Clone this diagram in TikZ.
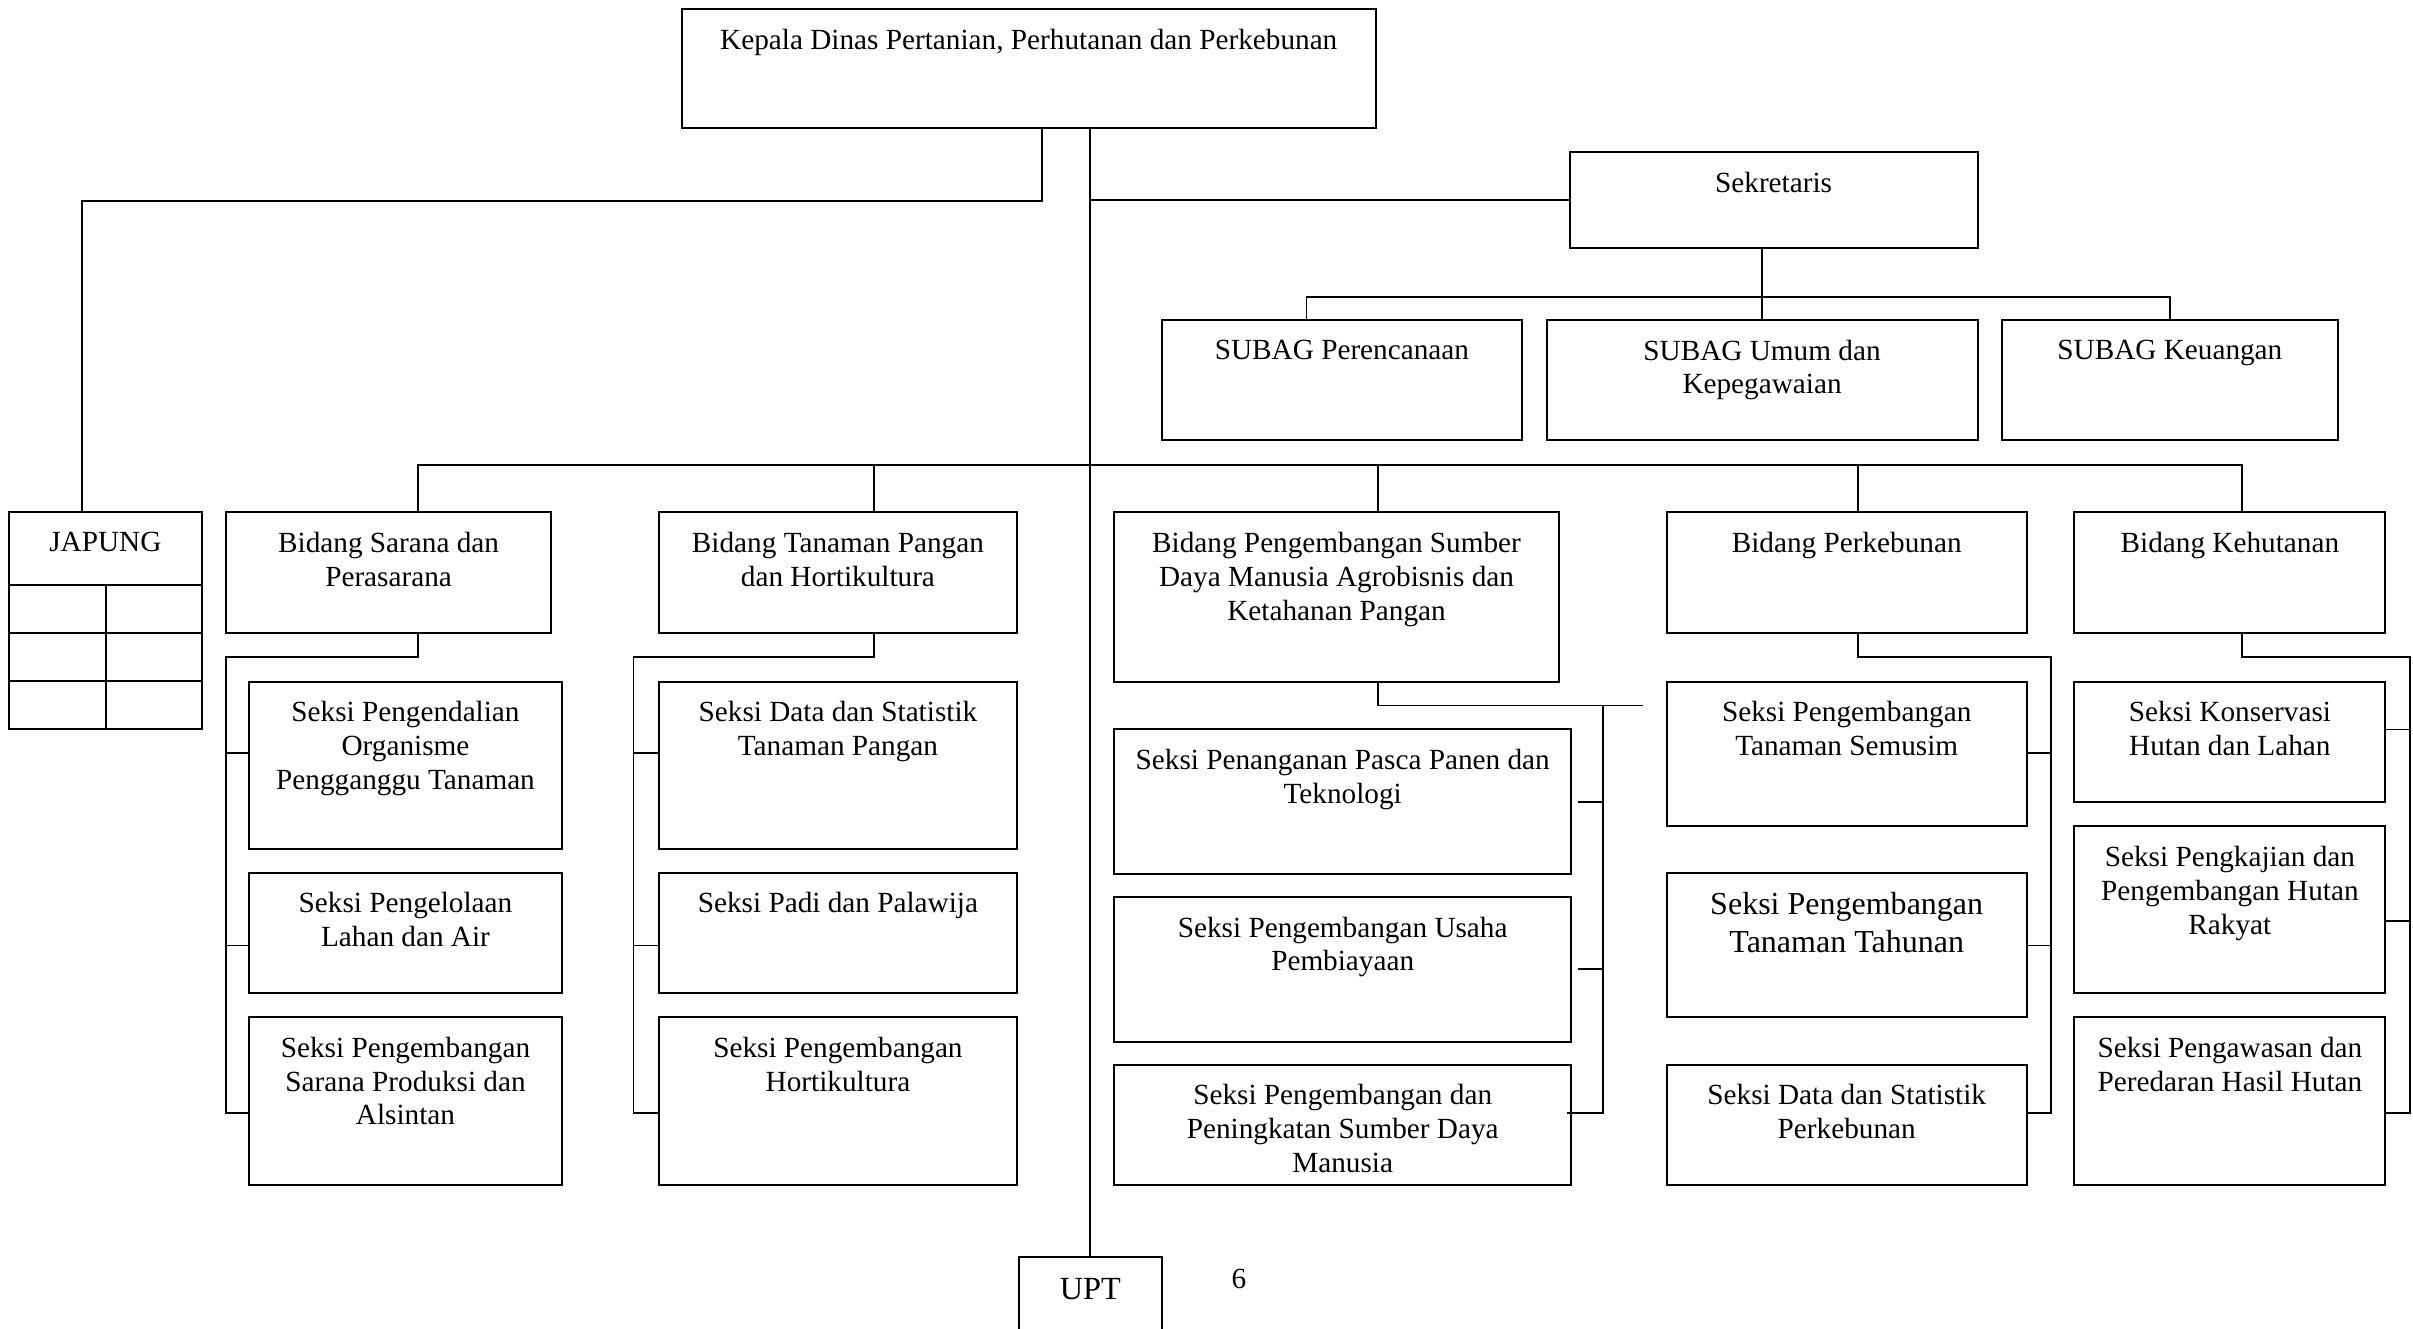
\documentclass[tikz,border=0pt]{standalone}
\usepackage{fontspec}
\setmainfont{Liberation Serif}
\usetikzlibrary{fit}
\tikzset{
  box/.style={draw, line width=0.65pt, inner sep=0pt},
  lab/.style={anchor=north, yshift=-6.5pt, inner sep=0pt, align=center, font=\fontsize{9.5}{11}\selectfont},
  conn/.style={line width=0.6pt},
}
\newcommand{\obox}[6]{\node[box, fit={(#2,#3)(#4,#5)}, label={[lab]north:{#6}}] (#1) {};}
\begin{document}
\begin{tikzpicture}[x=0.5pt,y=-0.5pt]
\useasboundingbox (0,0) rectangle (1568,863);
\clip (0,0) rectangle (1568,863);
\fill[white] (0,0) rectangle (1568,863);

\obox{kepala}{443}{6}{894}{83}{Kepala Dinas Pertanian, Perhutanan dan Perkebunan}
\obox{sek}{1020}{99}{1285}{161}{Sekretaris}
\obox{subag1}{755}{208}{989}{286}{SUBAG Perencanaan}
\obox{subag2}{1005}{208}{1285}{286}{SUBAG Umum dan\\Kepegawaian}
\obox{subag3}{1301}{208}{1519}{286}{SUBAG Keuangan}

\obox{japung}{6}{333}{131}{474}{JAPUNG}
\obox{b1}{147}{333}{358}{411.5}{Bidang Sarana dan\\Perasarana}
\obox{b2}{428}{333}{661}{411.5}{Bidang Tanaman Pangan\\dan Hortikultura}
\obox{b3}{724}{333}{1013}{443}{Bidang Pengembangan Sumber\\Daya Manusia Agrobisnis dan\\Ketahanan Pangan}
\obox{b4}{1083}{333}{1317}{411.5}{Bidang Perkebunan}
\obox{b5}{1348}{333}{1550}{411.5}{Bidang Kehutanan}

\obox{s11}{162}{443}{365}{552}{Seksi Pengendalian\\Organisme\\Pengganggu Tanaman}
\obox{s12}{162}{567}{365}{645.5}{Seksi Pengelolaan\\Lahan dan Air}
\obox{s13}{162}{661}{365}{770}{Seksi Pengembangan\\Sarana Produksi dan\\Alsintan}

\obox{s21}{428}{443}{661}{552}{Seksi Data dan Statistik\\Tanaman Pangan}
\obox{s22}{428}{567}{661}{645.5}{Seksi Padi dan Palawija}
\obox{s23}{428}{661}{661}{770}{Seksi Pengembangan\\Hortikultura}

\obox{s31}{724}{474}{1021}{568}{Seksi Penanganan Pasca Panen dan\\Teknologi}
\obox{s32}{724}{583}{1021}{677}{Seksi Pengembangan Usaha\\Pembiayaan}
\obox{s33}{724}{692}{1021}{770}{Seksi Pengembangan dan\\Peningkatan Sumber Daya\\Manusia}

\obox{s41}{1083}{443}{1317}{536.5}{Seksi Pengembangan\\Tanaman Semusim}
\node[box, fit={(1083,567)(1317,661)}, label={[lab, font=\fontsize{10.4}{12.3}\selectfont]north:{Seksi Pengembangan\\Tanaman Tahunan}}] (s42) {};
\obox{s43}{1083}{692}{1317}{770}{Seksi Data dan Statistik\\Perkebunan}

\obox{s51}{1348}{443}{1550}{521}{Seksi Konservasi\\Hutan dan Lahan}
\obox{s52}{1348}{537}{1550}{645.5}{Seksi Pengkajian dan\\Pengembangan Hutan\\Rakyat}
\obox{s53}{1348}{661}{1550}{770}{Seksi Pengawasan dan\\Peredaran Hasil Hutan}

\node[box, fit={(662,817)(755,885)}, label={[lab, yshift=-0.5pt, font=\fontsize{10.5}{12}\selectfont]north:UPT}] (upt) {};
\node[font=\fontsize{9.5}{11}\selectfont, anchor=base, inner sep=0pt] (pg) at (805,837) {6};

% JAPUNG grid
\draw[conn] (japung.west |- 0,380) -- (japung.east |- 0,380);
\draw[conn] (japung.west |- 0,411.5) -- (japung.east |- 0,411.5);
\draw[conn] (japung.west |- 0,442.6) -- (japung.east |- 0,442.6);
\draw[conn] (69,380) -- (69,0 |- japung.south);

\begin{scope}[conn]
% Kepala -> JAPUNG
\draw (677,0 |- kepala.south) -- (677,130.5) -- (53.5,130.5) -- (53.5,0 |- japung.north);
% main vertical to UPT
\draw (upt.north |- kepala.south) -- (upt.north);
% Sekretaris
\draw (sek.west -| upt.north) -- (sek.west);
\draw (subag2.north |- sek.south) -- (subag2.north);
\draw (849,0 |- subag1.north) -- (849,193) -| (subag3.north);
% Bidang bus
\draw (271.5,0 |- b1.north) -- (271.5,302.3) -- (1457,302.3) -- (1457,0 |- b5.north);
\draw (568,302.3) -- (568,0 |- b2.north);
\draw (895.5,302.3) -- (895.5,0 |- b3.north);
\draw (1207.5,302.3) -- (1207.5,0 |- b4.north);
% Sarana
\draw (271.5,0 |- b1.south) -- (271.5,427) -- (147,427) -- (147,723.5) -- (s13.west |- 0,723.5);
\draw (147,489.5) -- (s11.west |- 0,489.5);
\draw (147,614.4) -- (s12.west |- 0,614.4);
% Tanaman
\draw (568,0 |- b2.south) -- (568,427) -- (411.7,427) -- (411.7,723.5) -- (s23.west |- 0,723.5);
\draw (411.7,489.5) -- (s21.west |- 0,489.5);
\draw (411.7,614.4) -- (s22.west |- 0,614.4);
% PSDM
\draw (895.5,0 |- b3.south) -- (895.5,458.4) -- (1067.5,458.4);
\draw (1041.6,458.4) -- (1041.6,723.5) -- (1018,723.5);
\draw ([xshift=2pt]s31.east |- 0,520.9) -- (1041.6,520.9);
\draw ([xshift=2pt]s32.east |- 0,629.7) -- (1041.6,629.7);
% Perkebunan
\draw (1207.5,0 |- b4.south) -- (1207.5,427) -- (1332.5,427) -- (1332.5,723.5) -- (s43.east |- 0,723.5);
\draw (1332.5,489.5) -- (s41.east |- 0,489.5);
\draw (1332.5,614.4) -- (s42.east |- 0,614.4);
% Kehutanan
\draw (1457,0 |- b5.south) -- (1457,427) -- (1566,427) -- (1566,723.5) -- (s53.east |- 0,723.5);
\draw (1566,474) -- (s51.east |- 0,474);
\draw (1566,598.5) -- (s52.east |- 0,598.5);
\end{scope}
\end{tikzpicture}
\end{document}
